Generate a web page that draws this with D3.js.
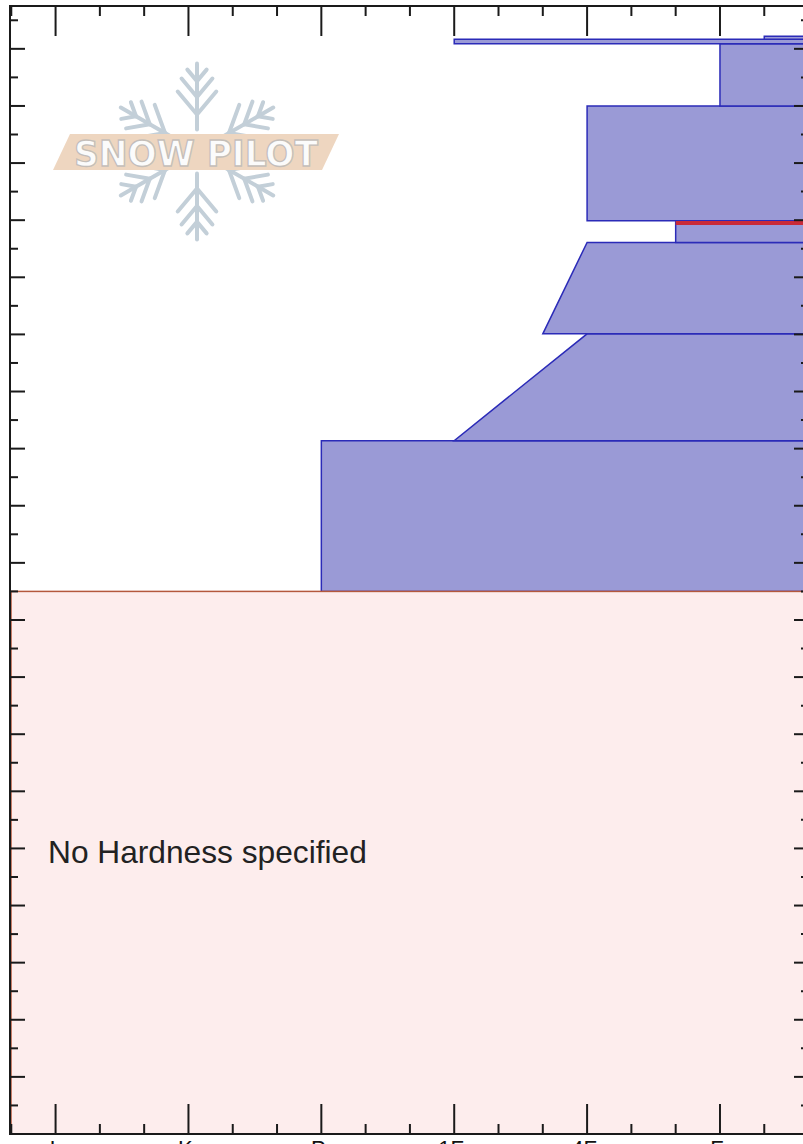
<!DOCTYPE html>
<html>
<head>
<meta charset="utf-8">
<script src="https://cdn.jsdelivr.net/npm/d3@7"></script>
<style>
  body { margin: 0; background: #fff; }
  svg { display: block; }
</style>
</head>
<body>
<div id="chart"></div>
<script>
// hardness scale, softest (F) on the right, ice (I) on the left
var hardnessLabels = ["F", "4F", "1F", "P", "K", "I"];

// layers, heights above ground in cm
var layerBottom   = [95,   121.4, 140.1, 156.1, 159.9, 180,  190.9, 191.7];
var layerTop      = [121.4, 140.1, 156.1, 159.9, 180,  190.9, 191.7, 192.2];
var hardnessBot   = ["P",  "1F",  "4F+", "F+",  "4F",  "F",  "1F",  "F-"];
var hardnessTopSt = ["P",  "4F",  "4F",  "F+",  "4F",  "F",  "1F",  "F-"];

// layer with no hardness recorded
var noHardnessBottom = 0;
var noHardnessTop = 95;
var noHardnessText = "No Hardness specified";

// critical layer marker
var criticalHeight = 159.5;
var criticalHardness = "F+";

var width = 803, height = 1144;
var plot = {left: 10, right: 809, top: 6, bottom: 1134};

function hardnessValue(code) {
  var base = code.replace(/[+-]/g, "");
  var v = hardnessLabels.indexOf(base) + 1;
  if (code.endsWith("+")) v += 1/3;
  if (code.endsWith("-")) v -= 1/3;
  return v;
}

var x = d3.scaleLinear()
  .domain([6.343, 0.33])
  .range([plot.left, plot.right]);

var y = d3.scaleLinear()
  .domain([0, 197.5])
  .range([plot.bottom, plot.top]);

var svg = d3.select("#chart").append("svg")
  .attr("width", width)
  .attr("height", height);

// logo watermark
var logo = svg.append("g").attr("class", "logo");
var cx = 197, cy = 151.5, armLen = 88;
var flake = logo.append("g")
  .attr("stroke", "#c3cfd8")
  .attr("stroke-width", 4)
  .attr("stroke-linecap", "round")
  .attr("fill", "none");
[-90, -30, 30, 90, 150, 210].forEach(function(a) {
  var r = a * Math.PI / 180;
  var dx = Math.cos(r), dy = Math.sin(r);
  flake.append("line")
    .attr("x1", cx + dx * 22).attr("y1", cy + dy * 22)
    .attr("x2", cx + dx * armLen).attr("y2", cy + dy * armLen);
  [[0.42, 30], [0.62, 24], [0.8, 15]].forEach(function(b) {
    var px = cx + dx * armLen * b[0], py = cy + dy * armLen * b[0];
    [-40, 40].forEach(function(s) {
      var rb = (a + s) * Math.PI / 180;
      flake.append("line")
        .attr("x1", px).attr("y1", py)
        .attr("x2", px + Math.cos(rb) * b[1])
        .attr("y2", py + Math.sin(rb) * b[1]);
    });
  });
});
logo.append("path")
  .attr("d", "M70,134L339,134L322,170L53,170Z")
  .attr("fill", "#eed6c0");
logo.append("text")
  .attr("x", 74).attr("y", 166)
  .attr("textLength", 244)
  .attr("lengthAdjust", "spacingAndGlyphs")
  .attr("font-family", "DejaVu Sans")
  .attr("font-weight", "bold")
  .attr("font-size", 35)
  .attr("fill", "#fbfbfb")
  .attr("stroke", "#c4beb9")
  .attr("stroke-width", 1.3)
  .text("SNOW PILOT");

// hardness layers
var layers = layerBottom.map(function(b, i) {
  return {bottom: b, top: layerTop[i], hTop: hardnessValue(hardnessTopSt[i]), hBot: hardnessValue(hardnessBot[i])};
});

svg.append("g").selectAll("path")
  .data(layers)
  .enter().append("path")
  .attr("d", function(d) {
    return "M" + x(d.hTop) + "," + y(d.top) +
      "L" + (plot.right + 5) + "," + y(d.top) +
      "L" + (plot.right + 5) + "," + y(d.bottom) +
      "L" + x(d.hBot) + "," + y(d.bottom) + "Z";
  })
  .attr("fill", "#9a9ad6")
  .attr("stroke", "#2b2bb8")
  .attr("stroke-width", 1.5);

svg.append("line")
  .attr("x1", x(hardnessValue(criticalHardness)))
  .attr("x2", plot.right + 5)
  .attr("y1", y(criticalHeight))
  .attr("y2", y(criticalHeight))
  .attr("stroke", "#c92a38")
  .attr("stroke-width", 4);

// no-hardness layer
svg.append("rect")
  .attr("x", plot.left + 1)
  .attr("y", y(noHardnessTop))
  .attr("width", plot.right - plot.left + 5)
  .attr("height", y(noHardnessBottom) - y(noHardnessTop))
  .attr("fill", "#fdeded")
  .attr("stroke", "#b4583c")
  .attr("stroke-width", 1.5);

svg.append("text")
  .attr("x", 48)
  .attr("y", 863)
  .attr("font-family", "Liberation Sans, Arial, sans-serif")
  .attr("font-size", 31.7)
  .attr("fill", "#222")
  .text(noHardnessText);

// axes
var hardTicks = d3.range(0.333, 6.4, 1/3).map(function(v) { return Math.round(v * 3) / 3; });
var majorH = function(v) { return Math.abs(v - Math.round(v)) < 0.01 && v >= 1; };

var axisG = svg.append("g").attr("stroke", "#1a1a1a").attr("stroke-width", 2);

hardTicks.forEach(function(v) {
  var len = majorH(v) ? 30 : 10;
  axisG.append("line")
    .attr("x1", x(v)).attr("x2", x(v))
    .attr("y1", plot.top).attr("y2", plot.top + len);
  axisG.append("line")
    .attr("x1", x(v)).attr("x2", x(v))
    .attr("y1", plot.bottom).attr("y2", plot.bottom - len);
});

d3.range(0, 200, 5).forEach(function(v) {
  var len = v % 10 === 0 ? 15 : 8;
  axisG.append("line")
    .attr("x1", plot.left).attr("x2", plot.left + len)
    .attr("y1", y(v)).attr("y2", y(v));
  axisG.append("line")
    .attr("x1", plot.right).attr("x2", plot.right - len)
    .attr("y1", y(v)).attr("y2", y(v));
});

svg.append("rect")
  .attr("x", plot.left).attr("y", plot.top)
  .attr("width", plot.right - plot.left)
  .attr("height", plot.bottom - plot.top)
  .attr("fill", "none")
  .attr("stroke", "#1a1a1a")
  .attr("stroke-width", 2);

svg.append("g").selectAll("text")
  .data(hardnessLabels)
  .enter().append("text")
  .attr("x", function(d) { return x(hardnessValue(d)) - 3; })
  .attr("y", plot.bottom + 22)
  .attr("text-anchor", "middle")
  .attr("font-family", "Liberation Sans, Arial, sans-serif")
  .attr("font-size", 22)
  .attr("fill", "#111")
  .text(function(d) { return d; });
</script>
</body>
</html>
